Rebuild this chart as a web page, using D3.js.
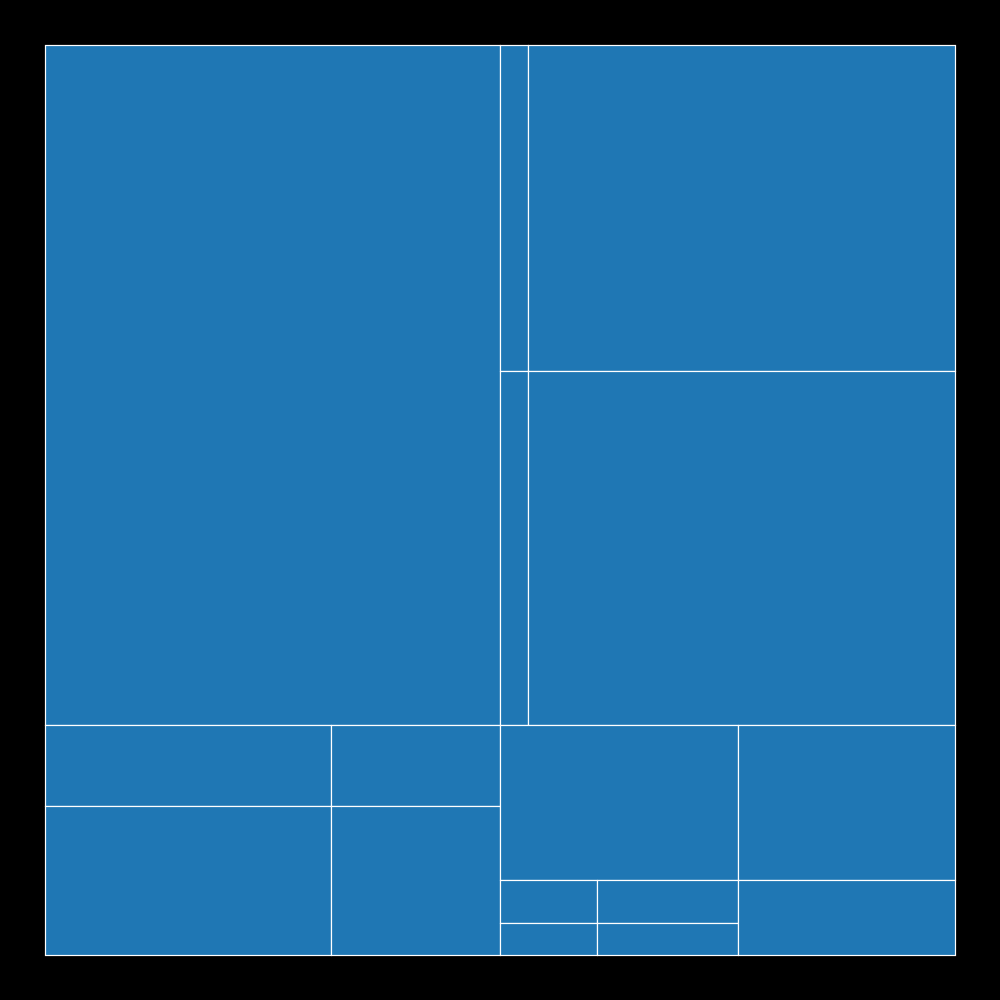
<!DOCTYPE html>
<html>
<head>
<meta charset="utf-8">
<script src="https://cdn.jsdelivr.net/npm/d3@7"></script>
<style>
html, body { margin: 0; padding: 0; background: #000; }
svg { display: block; }
</style>
</head>
<body>
<svg id="chart" width="1000" height="1000"></svg>
<script>
// Leaf values (areas)
const topLeft = [309400];
const topRightRow1 = [9128, 139202];
const topRightRow2 = [9912, 151158];
const bottomLeftRow1 = [23166, 13689];
const bottomLeftRow2 = [42614, 25181];
const bottomRightRow1 = [36890, 33635];
const bottomRightSubRow1 = [4171, 6063];
const bottomRightSubRow2 = [3104, 4512];
const bottomRightLast = [16275];

const leaves = arr => arr.map(v => ({ value: v }));

const data = {
  children: [
    { children: [
        ...leaves(topLeft),
        { children: [
            { children: leaves(topRightRow1) },
            { children: leaves(topRightRow2) }
        ]}
    ]},
    { children: [
        { children: [
            { children: leaves(bottomLeftRow1) },
            { children: leaves(bottomLeftRow2) }
        ]},
        { children: [
            { children: leaves(bottomRightRow1) },
            { children: [
                { children: [
                    { children: leaves(bottomRightSubRow1) },
                    { children: leaves(bottomRightSubRow2) }
                ]},
                ...leaves(bottomRightLast)
            ]}
        ]}
    ]}
  ]
};

const root = d3.hierarchy(data).sum(d => d.value || 0);

const tile = (node, x0, y0, x1, y1) =>
  (node.depth % 2 ? d3.treemapDice : d3.treemapSlice)(node, x0, y0, x1, y1);

d3.treemap()
  .tile(tile)
  .size([910, 910])
  .round(true)(root);

const svg = d3.select("#chart");
svg.append("rect").attr("width", 1000).attr("height", 1000).attr("fill", "#000");

const g = svg.append("g").attr("transform", "translate(45.5,45.5)");

g.selectAll("rect.leaf")
  .data(root.leaves())
  .join("rect")
  .attr("class", "leaf")
  .attr("x", d => d.x0)
  .attr("y", d => d.y0)
  .attr("width", d => d.x1 - d.x0)
  .attr("height", d => d.y1 - d.y0)
  .attr("fill", "#1f77b4")
  .attr("stroke", "#fff")
  .attr("stroke-width", 1.2);
</script>
</body>
</html>
